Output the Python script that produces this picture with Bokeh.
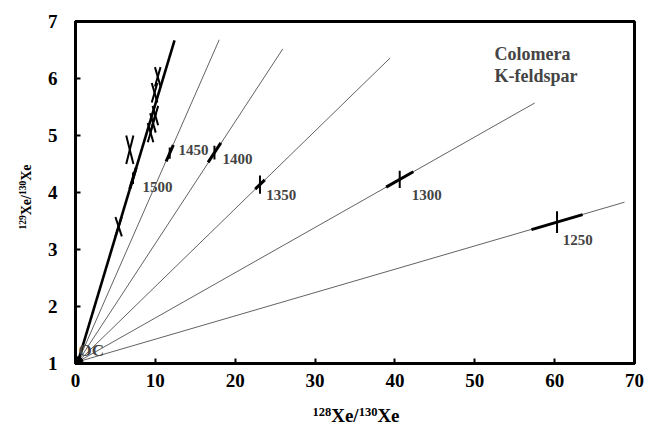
import numpy as np
from bokeh.plotting import figure
from bokeh.models import Label, Range1d, FixedTicker, Div
from bokeh.layouts import row, column
from bokeh.embed import file_html
from bokeh.resources import INLINE

# ---------------- data ----------------
oc_x = [0.3]
oc_y = [1.03]

line_ages = [1500, 1450, 1400, 1350, 1300, 1250]   # first one is the thick line
line_end_x = [12.4, 18.0, 25.96, 39.4, 57.5, 68.75]
line_end_y = [6.67, 6.68, 6.52, 6.36, 5.57, 3.83]

age_x = [7.2, 11.8, 17.4, 23.1, 40.6, 60.3]
age_y = [4.25, 4.69, 4.70, 4.14, 4.23, 3.48]
age_dx = [0.4, 0.45, 0.8, 0.6, 1.7, 3.2]
age_dy = [0.10, 0.10, 0.12, 0.16, 0.15, 0.19]

sample_x = [10.3, 9.9, 10.0, 9.7, 9.4, 6.8, 5.4]
sample_y = [6.03, 5.75, 5.35, 5.22, 5.05, 4.75, 3.40]
sample_dx = [0.35, 0.35, 0.35, 0.35, 0.35, 0.45, 0.40]
sample_dy = [0.17, 0.17, 0.17, 0.17, 0.17, 0.25, 0.17]

x_ticks = [0, 10, 20, 30, 40, 50, 60, 70]
y_ticks = [1, 2, 3, 4, 5, 6, 7]
x_title = ("128", "Xe/", "130", "Xe")
y_title = ("129", "Xe/", "130", "Xe")

# ---------------- layout ----------------
W, H = 646, 427
YT_W = 40            # width of the y-title column
FIG_H = 400          # figure height (x-title strip below)
FL, FR, FT, FB = 75, 634, 21, 363   # frame edges in page pixels
XMIN, XMAX, YMIN, YMAX = 0, 70, 1, 7
SX = (FR - FL) / (XMAX - XMIN)
SY = (FB - FT) / (YMAX - YMIN)

def xd(px):
    return XMIN + (px - FL) / SX

def yd(py):
    return YMIN + (FB - py) / SY

FONT = "Liberation Serif"

p = figure(width=W - YT_W, height=FIG_H, output_backend="svg", toolbar_location=None,
           x_range=Range1d(XMIN, XMAX), y_range=Range1d(YMIN, YMAX),
           min_border_left=FL - YT_W, min_border_right=W - FR,
           min_border_top=FT, min_border_bottom=FIG_H - FB, margin=0)
p.grid.visible = False
p.outline_line_color = "black"
p.outline_line_width = 3
p.background_fill_color = "white"
p.border_fill_color = "white"

for ax, ticks, standoff in ((p.xaxis[0], x_ticks, 10), (p.yaxis[0], y_ticks, 18)):
    ax.ticker = FixedTicker(ticks=ticks)
    ax.axis_line_width = 3
    ax.axis_line_color = "black"
    ax.major_tick_in = 5
    ax.major_tick_out = 0
    ax.major_tick_line_width = 2
    ax.minor_tick_line_color = None
    ax.major_label_text_font = FONT
    ax.major_label_text_font_style = "bold"
    ax.major_label_text_font_size = "19px"
    ax.major_label_text_color = "black"
    ax.major_label_standoff = standoff

# fan lines from OC
x0s = [oc_x[0]] * len(line_end_x)
y0s = [oc_y[0]] * len(line_end_y)
p.segment(x0s[1:], y0s[1:], line_end_x[1:], line_end_y[1:],
          line_color="#3a3a3a", line_width=0.8)
p.segment(x0s[:1], y0s[:1], line_end_x[:1], line_end_y[:1],
          line_color="black", line_width=2.6)

# age markers: segment along the line + vertical error bar
slopes = [(ye - oc_y[0]) / (xe - oc_x[0]) for xe, ye in zip(line_end_x, line_end_y)]
ax0 = [x - d for x, d in zip(age_x, age_dx)]
ax1 = [x + d for x, d in zip(age_x, age_dx)]
ay0 = [y - s * d for y, s, d in zip(age_y, slopes, age_dx)]
ay1 = [y + s * d for y, s, d in zip(age_y, slopes, age_dx)]
p.segment(ax0, ay0, ax1, ay1, line_color="black", line_width=3)
p.segment(age_x, [y - d for y, d in zip(age_y, age_dy)],
          age_x, [y + d for y, d in zip(age_y, age_dy)],
          line_color="black", line_width=2)

# sample crosses
sx0 = [x - d for x, d in zip(sample_x, sample_dx)]
sx1 = [x + d for x, d in zip(sample_x, sample_dx)]
sy0 = [y - d for y, d in zip(sample_y, sample_dy)]
sy1 = [y + d for y, d in zip(sample_y, sample_dy)]
p.segment(sx0, sy0, sx1, sy1, line_color="black", line_width=2)
p.segment(sx0, sy1, sx1, sy0, line_color="black", line_width=2)

# OC point
p.scatter(oc_x, oc_y, size=10, marker="circle", fill_color="black", line_color="black")

# labels
label_dx = [1.2, 1.1, 1.0, 0.8, 1.5, 0.7]
label_dy = [-0.15, 0.06, -0.12, -0.18, -0.28, -0.32]
for a, x, y, ddx, ddy in zip(line_ages, age_x, age_y, label_dx, label_dy):
    p.add_layout(Label(x=x + ddx, y=y + ddy, text=str(a), text_font=FONT,
                       text_font_style="bold", text_font_size="15px",
                       text_align="left", text_baseline="alphabetic"))

p.add_layout(Label(x=xd(78), y=yd(350), text="OC", text_font=FONT,
                   text_font_style="bold", text_font_size="17px",
                   text_align="left", text_baseline="alphabetic"))

p.add_layout(Label(x=xd(494), y=yd(53), text="Colomera", text_font=FONT,
                   text_font_style="bold", text_font_size="18px",
                   text_align="left", text_baseline="alphabetic"))
p.add_layout(Label(x=xd(494), y=yd(75), text="K-feldspar", text_font=FONT,
                   text_font_style="bold", text_font_size="18px",
                   text_align="left", text_baseline="alphabetic"))

# ---------------- axis titles (HTML with real superscripts) ----------------
def title_html(parts, small, raise_px):
    s1, m1, s2, m2 = parts
    sup = f"font-size:{small}px;vertical-align:{raise_px}px"
    return (f"<span style=\"{sup}\">{s1}</span>{m1}"
            f"<span style=\"{sup}\">{s2}</span>{m2}")

ytxt = title_html(y_title, 9.5, 5)
xtxt = title_html(x_title, 12.5, 6)

ydiv = Div(width=YT_W, height=FIG_H, margin=0, text=(
    f"<div style=\"position:relative;width:{YT_W}px;height:{FIG_H}px;\">"
    f"<div style=\"position:absolute;left:26px;top:197px;"
    f"transform:translate(-50%,-50%) rotate(-90deg);white-space:nowrap;"
    f"font-family:'{FONT}';font-weight:bold;font-size:14px;line-height:1;color:black;\">"
    f"{ytxt}</div></div>"))

xdiv = Div(width=W, height=H - FIG_H, margin=0, text=(
    f"<div style=\"position:relative;width:{W}px;height:{H - FIG_H}px;\">"
    f"<div style=\"position:absolute;left:356px;top:15px;"
    f"transform:translate(-50%,-50%);white-space:nowrap;"
    f"font-family:'{FONT}';font-weight:bold;font-size:19px;line-height:1;color:black;\">"
    f"{xtxt}</div></div>"))

layout = column(row(ydiv, p, spacing=0, margin=0), xdiv, spacing=0, margin=0)

open("out.html", "w").write(file_html(layout, INLINE))
